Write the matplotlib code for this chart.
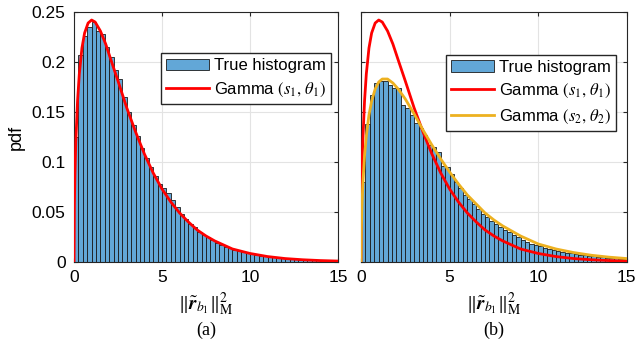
import numpy as np
import matplotlib
matplotlib.use("Agg")
import matplotlib.pyplot as plt

# histogram bins: 60 bins of width 0.25 on [0, 15]
bin_width = 0.25
bin_left = np.arange(60) * bin_width

# (a) true histogram heights (pdf)
hist_a = [0.125, 0.207, 0.226, 0.235, 0.240, 0.231, 0.228, 0.215, 0.205, 0.192,
          0.183, 0.165, 0.150, 0.137, 0.126, 0.114, 0.104, 0.095, 0.086, 0.078,
          0.074, 0.069, 0.062, 0.055, 0.048, 0.043, 0.038, 0.035, 0.030, 0.027,
          0.025, 0.022, 0.019, 0.017, 0.015, 0.014, 0.012, 0.011, 0.0098, 0.0090,
          0.0082, 0.0072, 0.0064, 0.0057, 0.0050, 0.0045, 0.0040, 0.0036, 0.0032, 0.0029,
          0.0026, 0.0023, 0.0020, 0.0018, 0.0016, 0.0015, 0.0013, 0.0011, 0.0010, 0.0009]

# (b) true histogram heights (pdf)
hist_b = [0.080, 0.138, 0.167, 0.179, 0.181, 0.181, 0.177, 0.174, 0.174, 0.157,
          0.154, 0.147, 0.139, 0.134, 0.127, 0.117, 0.115, 0.110, 0.096, 0.095,
          0.088, 0.080, 0.074, 0.067, 0.063, 0.058, 0.053, 0.048, 0.045, 0.041,
          0.038, 0.035, 0.032, 0.030, 0.027, 0.025, 0.022, 0.020, 0.018, 0.017,
          0.016, 0.014, 0.013, 0.012, 0.011, 0.010, 0.0092, 0.0085, 0.0079, 0.0072,
          0.0066, 0.0060, 0.0055, 0.0050, 0.0046, 0.0043, 0.0040, 0.0037, 0.0034, 0.0031]

# Gamma (s1, theta1) curve
g1_x = [0, 0.02, 0.05, 0.1, 0.2, 0.3, 0.45, 0.6, 0.8, 1.0, 1.2, 1.5, 1.8, 2.1, 2.5,
        3, 3.5, 4, 4.5, 5, 5.5, 6, 6.5, 7, 7.5, 8, 9, 10, 11, 12, 13, 14, 15]
g1_y = [0, 0.056, 0.087, 0.120, 0.161, 0.188, 0.214, 0.229, 0.239, 0.242, 0.240, 0.231,
        0.218, 0.202, 0.181, 0.154, 0.130, 0.108, 0.089, 0.073, 0.060, 0.049, 0.040,
        0.032, 0.026, 0.021, 0.013, 0.0085, 0.0054, 0.0034, 0.0022, 0.0014, 0.0009]

# Gamma (s2, theta2) curve
g2_x = g1_x
g2_y = [0, 0.034, 0.055, 0.077, 0.106, 0.126, 0.147, 0.161, 0.173, 0.180, 0.183, 0.183,
        0.179, 0.173, 0.163, 0.148, 0.132, 0.117, 0.103, 0.090, 0.078, 0.067, 0.058,
        0.049, 0.042, 0.036, 0.026, 0.018, 0.013, 0.0094, 0.0067, 0.0048, 0.0034]

xticks = [0, 5, 10, 15]
yticks = [0, 0.05, 0.1, 0.15, 0.2, 0.25]
ytick_labels = ["0", "0.05", "0.1", "0.15", "0.2", "0.25"]

plt.rcParams["font.family"] = ["Liberation Sans", "DejaVu Sans"]
plt.rcParams["mathtext.fontset"] = "stix"
plt.rcParams["font.size"] = 12

BAR_COLOR = "#62a7d7"
RED = "#ff0000"
YELLOW = "#edb120"
XLABEL = r"$\Vert\tilde{\mathbfit{r}}_{b_1}\Vert_{\mathrm{M}}^{2}$"
G1 = r"Gamma $(s_1,\,\theta_1)$"
G2 = r"Gamma $(s_2,\,\theta_2)$"

fig = plt.figure(figsize=(6.36, 3.54), dpi=100)
ax_a = fig.add_axes([0.1164, 0.260, 0.415, 0.706])
ax_b = fig.add_axes([0.5676, 0.260, 0.418, 0.706])


def style(ax, panel):
    ax.set_xlim(0, 15)
    ax.set_ylim(0, 0.25)
    ax.set_xticks(xticks)
    ax.set_yticks(yticks)
    ax.grid(True, color="#e3e3e3", linewidth=0.8)
    ax.set_axisbelow(True)
    ax.tick_params(direction="in", length=3, color="#262626", top=True, right=True,
                   labelsize=12.5, pad=6)
    for s in ax.spines.values():
        s.set_color("#262626")
        s.set_linewidth(0.8)
    ax.set_xlabel(XLABEL, fontsize=14, labelpad=4)
    ax.text(0.5, -0.275, panel, transform=ax.transAxes, ha="center", va="center",
            fontsize=13, family="Liberation Serif")


def legend(ax, handles, anchor):
    ax.legend(handles=handles, loc="upper right", bbox_to_anchor=anchor,
              fancybox=False, edgecolor="#262626", framealpha=1, handlelength=2.6,
              borderpad=0.3, labelspacing=0.45, handletextpad=0.3,
              borderaxespad=0.0, fontsize=12)


# (a)
bars_a = ax_a.bar(bin_left, hist_a, width=bin_width, align="edge", color=BAR_COLOR,
                  edgecolor="#1a1a1a", linewidth=0.6, label="True histogram", zorder=2)
line_a, = ax_a.plot(g1_x, g1_y, color=RED, lw=2, label=G1, zorder=3)
style(ax_a, "(a)")
ax_a.set_yticklabels(ytick_labels)
ax_a.set_ylabel("pdf", fontsize=13, labelpad=5)
legend(ax_a, [bars_a, line_a], (0.975, 0.835))

# (b)
bars_b = ax_b.bar(bin_left, hist_b, width=bin_width, align="edge", color=BAR_COLOR,
                  edgecolor="#1a1a1a", linewidth=0.6, label="True histogram", zorder=2)
line_b1, = ax_b.plot(g1_x, g1_y, color=RED, lw=2, label=G1, zorder=3)
line_b2, = ax_b.plot(g2_x, g2_y, color=YELLOW, lw=2, label=G2, zorder=4)
style(ax_b, "(b)")
ax_b.set_yticklabels([])
legend(ax_b, [bars_b, line_b1, line_b2], (0.96, 0.83))

fig.savefig("out.png", dpi=100)
